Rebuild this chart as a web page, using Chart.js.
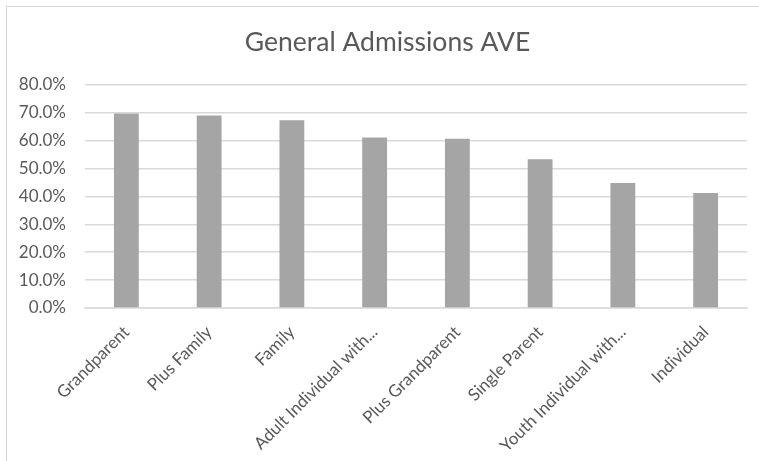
<!DOCTYPE html>
<html>
<head>
<meta charset="utf-8">
<script src="https://cdn.jsdelivr.net/npm/chart.js@4"></script>
<style>
  html, body { margin: 0; padding: 0; background: #fff; }
  #wrap { position: relative; width: 759px; height: 461px; }
  #frame { position: absolute; left: 6px; top: 6px; right: 0; bottom: 0;
           border-left: 1.5px solid #d9d9d9; border-top: 1.5px solid #d9d9d9; }
  canvas { position: absolute; left: 0; top: 0; }
</style>
</head>
<body>
<div id="wrap">
  <div id="frame"></div>
  <canvas id="grafica" width="759" height="461"></canvas>
</div>
<script>
const categorias = ["Grandparent", "Plus Family", "Family", "Adult Individual with...",
                    "Plus Grandparent", "Single Parent", "Youth Individual with...", "Individual"];
const promedios = [69.7, 69.0, 67.3, 61.1, 60.7, 53.3, 44.8, 41.2];
const etiquetasY = ["0.0%", "10.0%", "20.0%", "30.0%", "40.0%", "50.0%", "60.0%", "70.0%", "80.0%"];

const gris = "#595959";

let ctx = document.getElementById("grafica").getContext("2d");

// el titulo va centrado un poco a la derecha del centro del lienzo
const correrTitulo = {
    id: "correrTitulo",
    afterLayout: function (c) {
        if (c.titleBlock) c.titleBlock.left = 28;
    }
};

var chart = new Chart(ctx, {
    type: "bar",
    data: {
        labels: categorias,
        datasets: [
            {
                label: "General Admissions AVE",
                backgroundColor: "#a5a5a5",
                data: promedios,
                barPercentage: 0.3,
                categoryPercentage: 1
            }
        ]
    },
    plugins: [correrTitulo],
    options: {
        responsive: false,
        animation: false,
        layout: { padding: { left: 0, right: 12, top: 0, bottom: 0 } },
        plugins: {
            legend: { display: false },
            tooltip: { enabled: false },
            title: {
                display: true,
                text: "General Admissions AVE",
                color: gris,
                font: { family: "Lato", size: 26.5, weight: "normal" },
                padding: { top: 27, bottom: 26 }
            }
        },
        scales: {
            x: {
                afterFit: function (eje) { eje.height = 153; },
                grid: { display: false },
                border: { color: "#d9d9d9", width: 1.5 },
                ticks: {
                    color: gris,
                    font: { family: "Lato", size: 17 },
                    minRotation: 45,
                    maxRotation: 45,
                    padding: 6
                }
            },
            y: {
                min: 0,
                max: 80,
                afterFit: function (eje) { eje.width = 85; },
                grid: { color: "#d9d9d9", lineWidth: 1.5, drawTicks: false },
                border: { display: false },
                ticks: {
                    stepSize: 10,
                    color: gris,
                    font: { family: "Lato", size: 17 },
                    padding: 19,
                    callback: (v, i) => etiquetasY[i]
                }
            }
        }
    }
});
</script>
</body>
</html>
